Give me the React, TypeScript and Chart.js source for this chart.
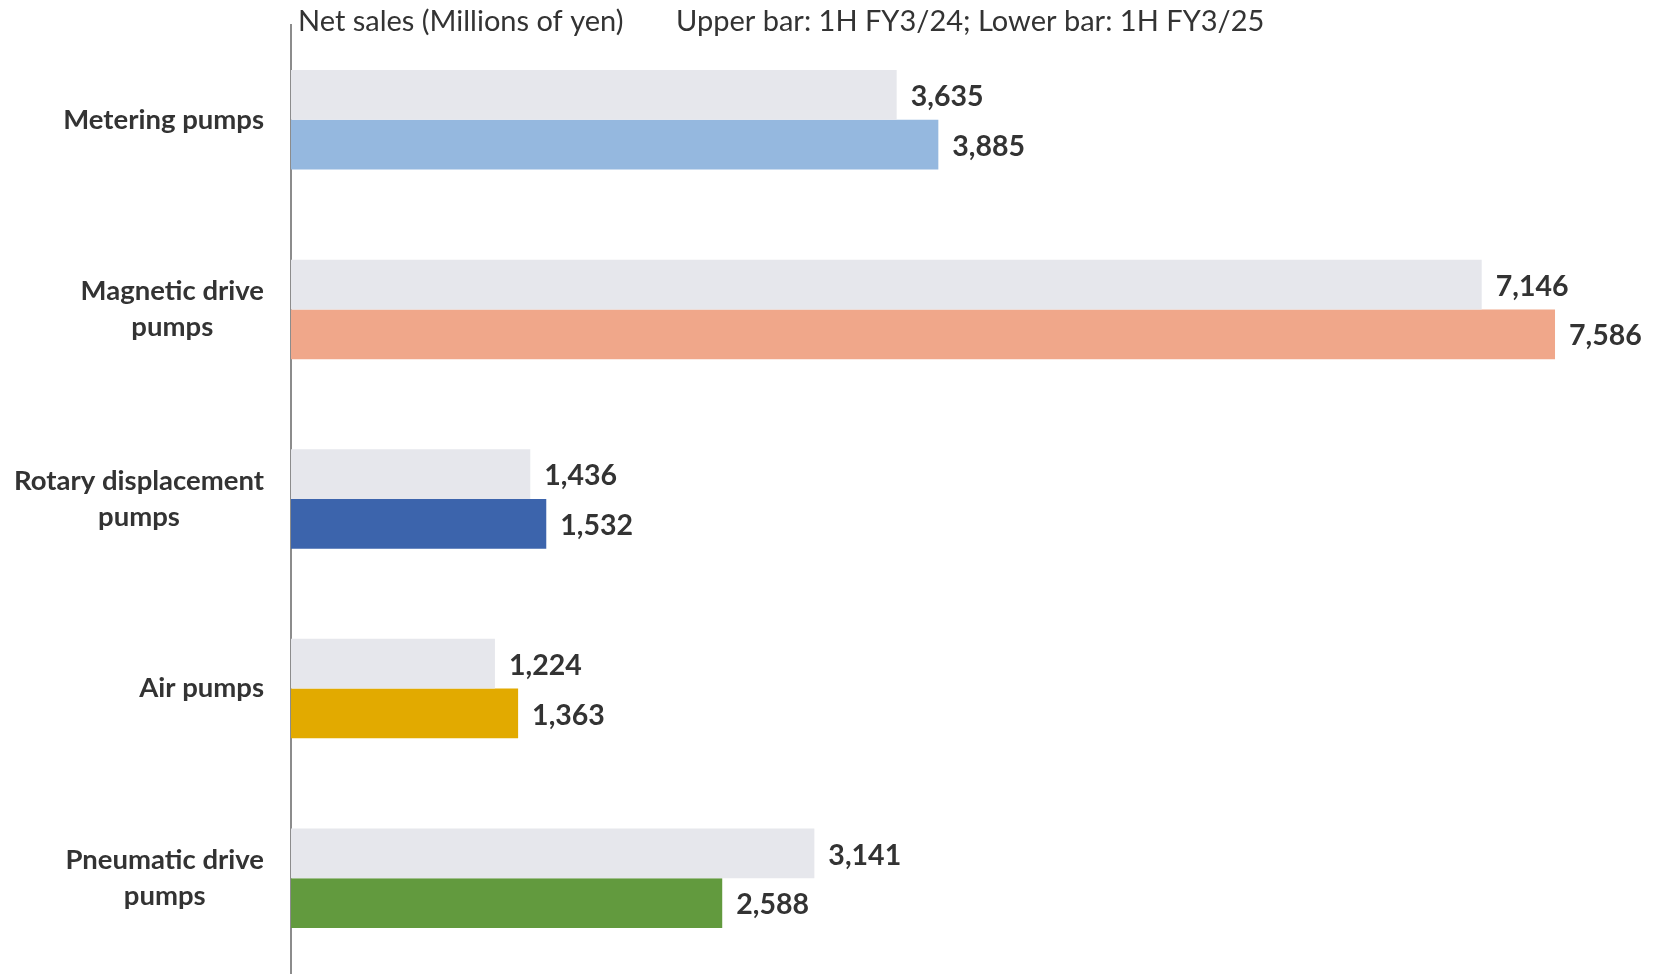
import React, { useEffect, useRef } from "react";
import { Chart, registerables } from "chart.js";

Chart.register(...registerables);

const categories: (string | string[])[] = [
  "Metering pumps",
  ["Magnetic drive", "pumps"],
  ["Rotary displacement", "pumps"],
  "Air pumps",
  ["Pneumatic drive", "pumps"],
];
const upperValues = [3635, 7146, 1436, 1224, 3141]; // 1H FY3/24
const lowerValues = [3885, 7586, 1532, 1363, 2588]; // 1H FY3/25
const lowerColors = ["#95B8DF", "#F0A78A", "#3C64AC", "#E2AA00", "#629A3E"];
const upperColor = "#E6E7EC";
const axisTitle = "Net sales (Millions of yen)";
const seriesNote = "Upper bar: 1H FY3/24; Lower bar: 1H FY3/25";

const FONT = "Lato, 'Open Sans', sans-serif";
const TEXT = "#333333";

const labelPlugin = {
  id: "labels",
  afterDatasetsDraw(chart: any) {
    const ctx = chart.ctx;
    ctx.save();
    ctx.font = `bold 28.5px ${FONT}`;
    ctx.fillStyle = TEXT;
    ctx.textBaseline = "middle";
    ctx.textAlign = "left";
    chart.data.datasets.forEach((ds: any, di: number) => {
      const meta = chart.getDatasetMeta(di);
      meta.data.forEach((el: any, i: number) => {
        const v = ds.data[i] as number;
        ctx.fillText(v.toLocaleString("en-US"), el.x + 14, el.y + 2);
      });
    });
    ctx.restore();
  },
  afterDraw(chart: any) {
    const ctx = chart.ctx;
    const left = chart.chartArea.left;
    ctx.save();
    // category labels: block right-aligned, lines centred within block
    ctx.font = `bold 27.5px ${FONT}`;
    ctx.fillStyle = TEXT;
    ctx.textBaseline = "middle";
    ctx.textAlign = "center";
    const yScale = chart.scales.y;
    const rightEdge = left - 27;
    const lineH = 36;
    (chart.data.labels as any[]).forEach((lab: any, i: number) => {
      const lines: string[] = Array.isArray(lab) ? lab : [lab];
      const w = Math.max(...lines.map((l) => ctx.measureText(l).width));
      const cx = rightEdge - w / 2;
      const cy = yScale.getPixelForTick(i);
      const y0 = cy - ((lines.length - 1) * lineH) / 2;
      lines.forEach((l, j) => ctx.fillText(l, cx, y0 + j * lineH));
    });
    // header texts
    ctx.font = `29px ${FONT}`;
    ctx.textAlign = "left";
    ctx.fillText(axisTitle, left + 7, 22);
    ctx.fillText(seriesNote, 676, 22);
    ctx.restore();
  },
};

export default function App() {
  const ref = useRef<HTMLCanvasElement>(null);
  useEffect(() => {
    if (!ref.current) return;
    const chart = new Chart(ref.current, {
      type: "bar",
      data: {
        labels: categories as any,
        datasets: [
          {
            label: "1H FY3/24",
            data: upperValues,
            backgroundColor: upperColor,
            categoryPercentage: 0.525,
            barPercentage: 1,
          },
          {
            label: "1H FY3/25",
            data: lowerValues,
            backgroundColor: lowerColors,
            categoryPercentage: 0.525,
            barPercentage: 1,
          },
        ],
      },
      options: {
        indexAxis: "y",
        animation: false,
        responsive: false,
        maintainAspectRatio: false,
        layout: { padding: { top: 25, bottom: 1, right: 37, left: 0 } },
        plugins: {
          legend: { display: false },
          tooltip: { enabled: false },
          title: { display: false },
        },
        scales: {
          x: {
            display: false,
            min: 0,
            max: 8000,
          },
          y: {
            afterFit: (scale: any) => {
              scale.width = 291;
              scale.paddingTop = 0;
              scale.paddingBottom = 0;
            },
            grid: { display: true, drawOnChartArea: false, drawTicks: false, color: "transparent" },
            border: { display: true, color: "#8C8C8C", width: 2 },
            ticks: { display: false },
          },
        },
      },
      plugins: [labelPlugin],
    });
    return () => chart.destroy();
  }, []);
  return (
    <div style={{ position: "fixed", left: 0, top: 0, width: 1661, height: 974, background: "#fff" }}>
      <canvas ref={ref} width={1661} height={974} style={{ width: 1661, height: 974, display: "block" }} />
    </div>
  );
}
